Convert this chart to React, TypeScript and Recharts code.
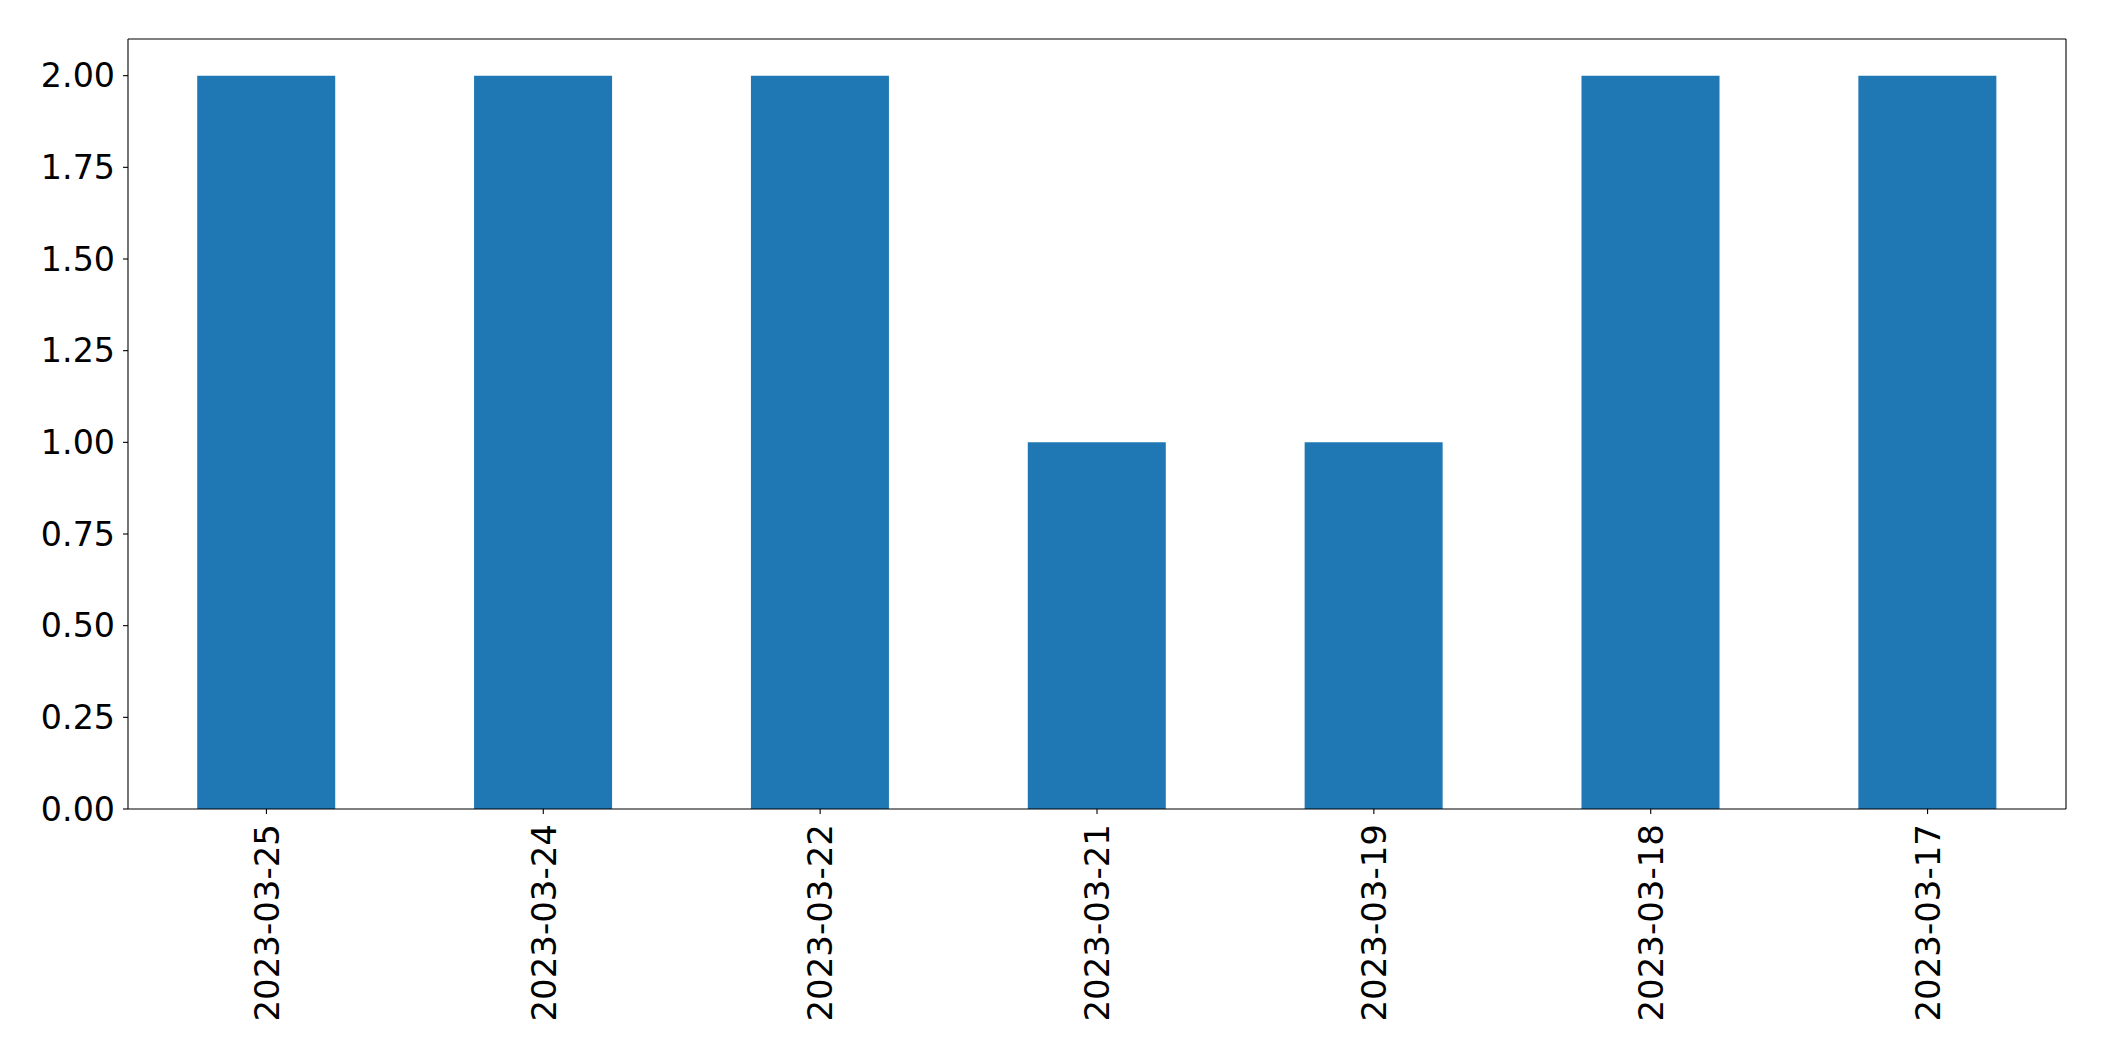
import { Bar, BarChart, XAxis, YAxis } from "recharts";

const dates = [
  "2023-03-25",
  "2023-03-24",
  "2023-03-22",
  "2023-03-21",
  "2023-03-19",
  "2023-03-18",
  "2023-03-17",
];
const counts = [2, 2, 2, 1, 1, 2, 2];
const yTicks = [0, 0.25, 0.5, 0.75, 1, 1.25, 1.5, 1.75, 2];

const FONT = "DejaVu Sans";

interface TickProps {
  x?: number;
  y?: number;
  payload?: { value: string };
}

// rotated date labels, text ends just below the tick
function DateTick({ x = 0, y = 0, payload }: TickProps) {
  return (
    <g transform={`translate(${x},${y + 6})`}>
      <text
        transform="rotate(-90)"
        textAnchor="end"
        dy="0.36em"
        fontFamily={FONT}
        fontSize={34}
        fill="#000"
      >
        {payload?.value}
      </text>
    </g>
  );
}

export default function App() {
  const data = dates.map((d, i) => ({ date: d, count: counts[i] }));
  const axisLine = { stroke: "#000", strokeWidth: 1.1 };
  return (
    <div style={{ position: "absolute", left: 0, top: 0, background: "#fff" }}>
      <BarChart
        width={2104}
        height={1061}
        data={data}
        margin={{ top: 38, right: 37, left: 0, bottom: 0 }}
        barCategoryGap="25%"
      >
        <XAxis
          dataKey="date"
          xAxisId="bottom"
          height={252}
          interval={0}
          stroke="#000"
          axisLine={axisLine}
          tickLine={axisLine}
          tickSize={5}
          tickMargin={4}
          tick={<DateTick />}
        />
        <XAxis
          dataKey="date"
          xAxisId="top"
          orientation="top"
          height={1}
          stroke="#000"
          axisLine={axisLine}
          tick={false}
          tickLine={false}
        />
        <YAxis
          yAxisId="left"
          width={128}
          domain={[0, 2.1]}
          ticks={yTicks}
          interval={0}
          tickFormatter={(v: number) => v.toFixed(2)}
          stroke="#000"
          axisLine={axisLine}
          tickLine={axisLine}
          tickSize={5}
          tickMargin={8}
          tick={{ fontFamily: FONT, fontSize: 33.3, fill: "#000" }}
        />
        <YAxis
          yAxisId="right"
          orientation="right"
          width={1}
          domain={[0, 2.1]}
          stroke="#000"
          axisLine={axisLine}
          tick={false}
          tickLine={false}
        />
        <Bar
          dataKey="count"
          xAxisId="bottom"
          yAxisId="left"
          fill="#1f77b4"
          isAnimationActive={false}
        />
      </BarChart>
    </div>
  );
}
